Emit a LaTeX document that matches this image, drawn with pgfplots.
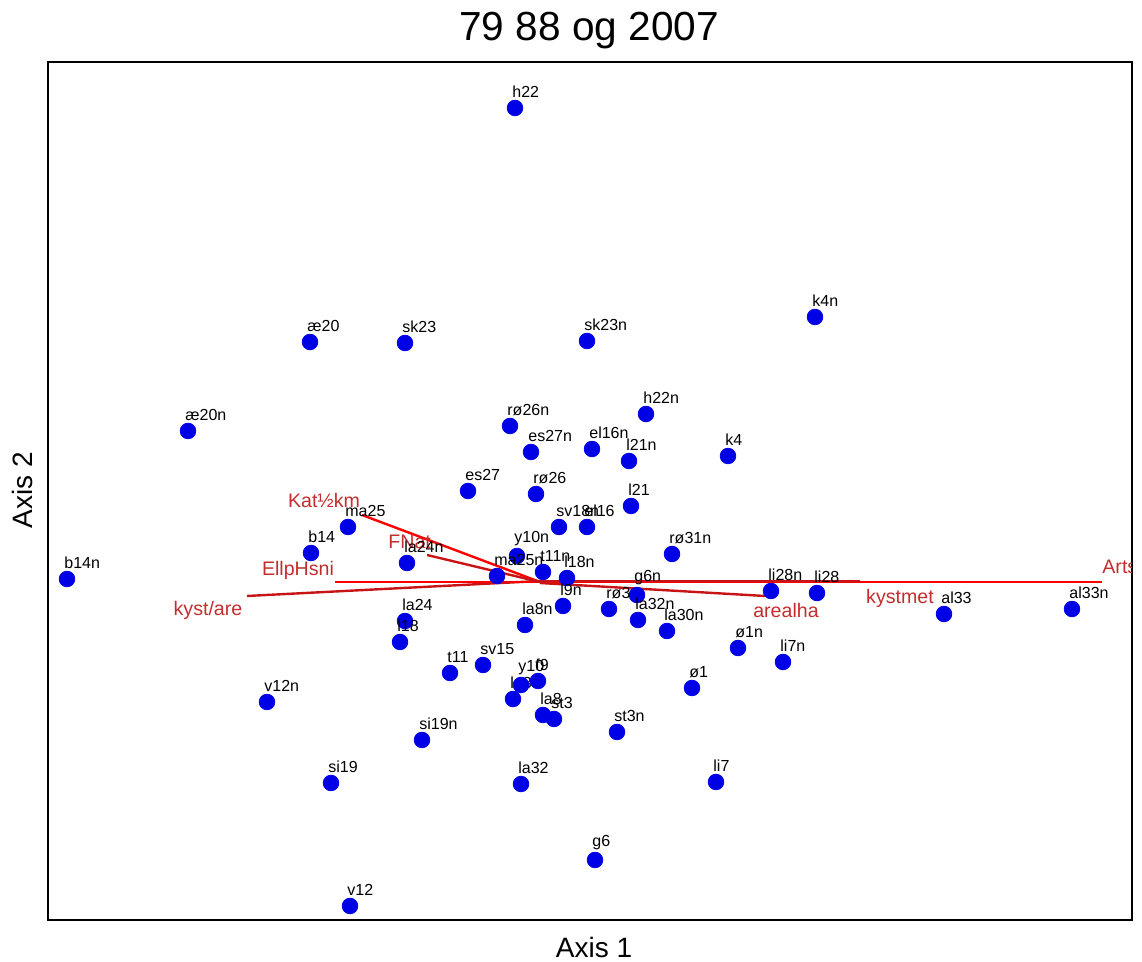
\documentclass[border=0pt]{standalone}
\usepackage{fontspec}
\setmainfont{Liberation Sans}
\usepackage{pgfplots}
\pgfplotsset{compat=1.18}
\definecolor{vec}{RGB}{255,0,0}
\definecolor{vecd}{RGB}{200,20,20}
\definecolor{vlab}{RGB}{195,45,45}
\definecolor{pt}{RGB}{0,0,230}
\begin{document}
\begin{tikzpicture}
\useasboundingbox (-24pt,-21pt) rectangle (547pt,460pt);
\begin{axis}[
  scale only axis, width=542pt, height=429pt,
  xmin=48, xmax=1132, ymin=42, ymax=900,
  xtick=\empty, ytick=\empty,
  axis line style={line width=1.1pt},
  clip=false,
]
\addplot[vec, line width=1.3pt] coordinates {(540,380) (1102,380)};
\addplot[vecd, line width=1.3pt] coordinates {(540,381) (860,381)};
\addplot[vecd, line width=1.2pt] coordinates {(540,379) (765,366)};
\addplot[vecd, line width=1.2pt] coordinates {(540,381) (247,366)};
\addplot[vec, line width=1.2pt] coordinates {(540,380) (335,380)};
\addplot[vec, line width=1.2pt] coordinates {(540,380) (362,447)};
\addplot[vecd, line width=1.2pt] coordinates {(540,380) (427,407)};

\addplot[only marks, mark=*, mark size=3.9pt, color=pt,
  point meta=explicit symbolic,
  nodes near coords,
  every node near coord/.style={anchor=south west, inner sep=0pt, xshift=-1.5pt, yshift=5pt, black, font=\fontsize{8}{9}\selectfont},
] table[x=x, y=y, meta=label] {
x y label
515 854 h22
815 645 k4n
310 620 æ20
405 619 sk23
587 621 sk23n
646 548 h22n
188 531 æ20n
510 536 rø26n
531 510 es27n
592 513 el16n
629 501 l21n
728 506 k4
468 471 es27
536 468 rø26
631 456 l21
559 435 sv18n
587 435 el16
348 435 ma25
311 409 b14
407 399 la24n
517 406 y10n
497 386 ma25n
543 390 t11n
567 384 l18n
672 408 rø31n
67 383 b14n
771 371 li28n
817 369 li28
637 367 g6n
944 348 al33
1072 353 al33n
405 341 la24
400 320 l18
563 356 l9n
609 353 rø3
638 342 la32n
667 331 la30n
525 337 la8n
738 314 ø1n
783 300 li7n
450 289 t11
483 297 sv15
513 263 la30
521 277 y10
538 281 f9
543 247 la8
554 243 st3
692 274 ø1
617 230 st3n
267 260 v12n
422 222 si19n
331 179 si19
521 178 la32
716 180 li7
595 102 g6
350 56 v12
};

\begin{scope}[font=\fontsize{9.8}{11}\selectfont, text=vlab, inner sep=0pt]
\begin{scope}
\clip (axis cs:1050,360) rectangle (axis cs:1131,430);
\node[anchor=west] at (axis cs:1102,395) {Arts};
\end{scope}
\node at (axis cs:900,364) {kystmet};
\node at (axis cs:786,351) {arealha};
\node at (axis cs:208,352) {kyst/are};
\node at (axis cs:298,392) {EllpHsni};
\node at (axis cs:324,461) {Kat½km};
\node[anchor=west] at (axis cs:388,420) {FNat};
\end{scope}

\node[font=\fontsize{20.3}{22}\selectfont] at (axis cs:589,931) {79 88 og 2007};
\node[font=\fontsize{14}{16}\selectfont] at (axis cs:594,14) {Axis 1};
\node[font=\fontsize{14}{16}\selectfont, rotate=90] at (axis cs:22,472) {Axis 2};
\end{axis}
\end{tikzpicture}
\end{document}
